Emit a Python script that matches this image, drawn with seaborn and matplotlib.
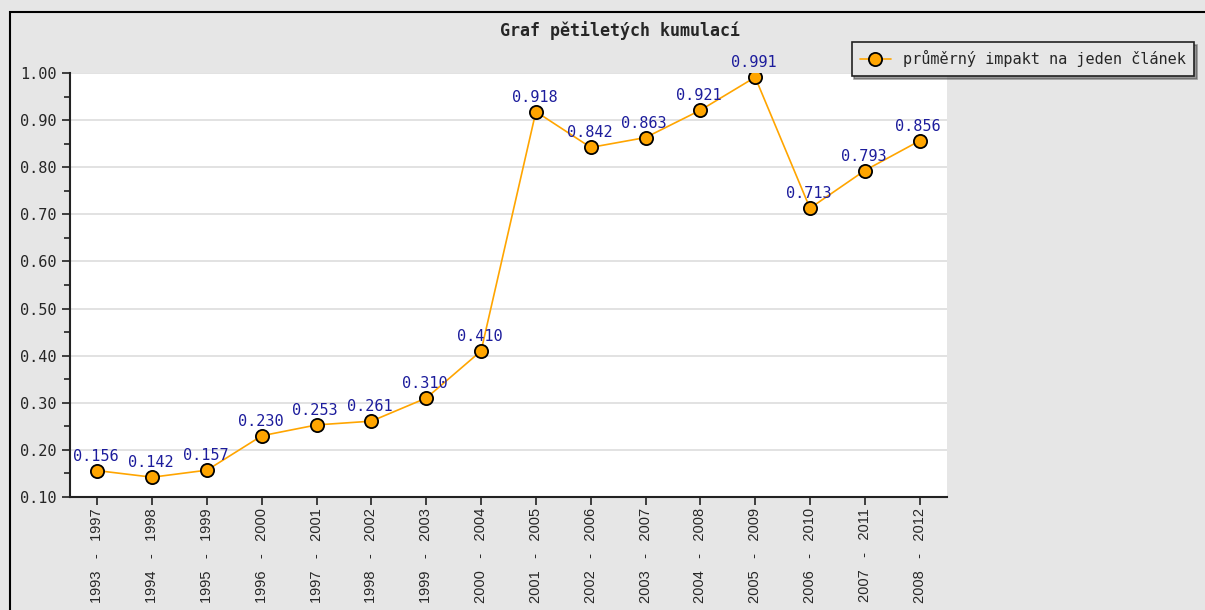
import matplotlib
matplotlib.use("Agg")
import matplotlib.pyplot as plt
import seaborn as sns
import pandas as pd
from matplotlib.patches import Rectangle

# --- data ---------------------------------------------------
periods = ["1993 - 1997", "1994 - 1998", "1995 - 1999", "1996 - 2000",
           "1997 - 2001", "1998 - 2002", "1999 - 2003", "2000 - 2004",
           "2001 - 2005", "2002 - 2006", "2003 - 2007", "2004 - 2008",
           "2005 - 2009", "2006 - 2010", "2007 - 2011", "2008 - 2012"]
impact = [0.156, 0.142, 0.157, 0.230, 0.253, 0.261, 0.310, 0.410,
          0.918, 0.842, 0.863, 0.921, 0.991, 0.713, 0.793, 0.856]
series_name = "průměrný impakt na jeden článek"
title = "Graf pětiletých kumulací"

df = pd.DataFrame({"period": periods, "impact": impact})
df["x"] = range(len(df))

# --- style ----------------------------------------------------
sns.set_style("white")
mono = ["DejaVu Sans Mono"]
bg = "#e6e6e6"

fig = plt.figure(figsize=(12.05, 6.1), dpi=100, facecolor=bg)
ax = fig.add_axes([70 / 1205, 1 - 497 / 610, 877 / 1205, 424 / 610])
ax.set_facecolor("white")

# outer frame (cut at right/bottom like the screenshot)
fig.patches.append(Rectangle((10 / 1205, -0.05), 1.2, 1 - 12 / 610 + 0.05,
                             transform=fig.transFigure, fill=False,
                             edgecolor="black", linewidth=1.5, zorder=0))

sns.lineplot(data=df, x="x", y="impact", ax=ax, color="#ffa500",
             linewidth=1.2, marker="o", markersize=9.5,
             markerfacecolor="#ffa500", markeredgecolor="black",
             markeredgewidth=1.3, label=series_name, legend=False)

for xi, v in zip(df["x"], df["impact"]):
    ax.annotate(f"{v:.3f}", (xi, v), xytext=(-1, 5), textcoords="offset points",
                ha="center", va="bottom", color="#1c1c9c",
                family=mono, fontsize=11)

ax.set_xlim(-0.5, len(periods) - 0.5)
ax.set_ylim(0.10, 1.00)
ax.set_yticks([i / 10 for i in range(1, 11)])
ax.set_yticks([i / 10 + 0.05 for i in range(1, 10)], minor=True)
ax.set_yticklabels([f"{i / 10:.2f}" for i in range(1, 11)], family=mono,
                   fontsize=11)
ax.set_xticks(df["x"])
ax.set_xticklabels([p.replace(" - ", "   -   ") for p in periods],
                   rotation=90, fontsize=10.5, family=["Liberation Sans"])
ax.grid(axis="y", color="#dddddd", linewidth=1.2)
ax.set_axisbelow(True)
ax.set_xlabel("")
ax.set_ylabel("")

for s in ["top", "right"]:
    ax.spines[s].set_visible(False)
for s in ["left", "bottom"]:
    ax.spines[s].set_color("#222222")
    ax.spines[s].set_linewidth(1.5)
ax.tick_params(axis="both", which="both", direction="out", color="#222222",
               width=1.2, left=True, bottom=True)
ax.tick_params(axis="y", which="major", length=6, pad=3.5)
ax.tick_params(axis="y", which="minor", length=4)
ax.tick_params(axis="x", length=6, pad=2)

fig.text(620 / 1205, 1 - 31 / 610, title, ha="center", va="center",
         family=mono, fontweight="bold", fontsize=12)

handles, labels = ax.get_legend_handles_labels()
leg = fig.legend(handles, labels, loc="upper right",
                 bbox_to_anchor=(1194 / 1205, 1 - 42 / 610),
                 frameon=True, fancybox=False, shadow=True,
                 facecolor=bg, edgecolor="#222222", borderaxespad=0,
                 borderpad=0.55, prop={"family": mono, "size": 11},
                 handlelength=2.0, handletextpad=0.8)
leg.get_frame().set_linewidth(1.2)

fig.savefig("out.png", dpi=100, facecolor=bg)
